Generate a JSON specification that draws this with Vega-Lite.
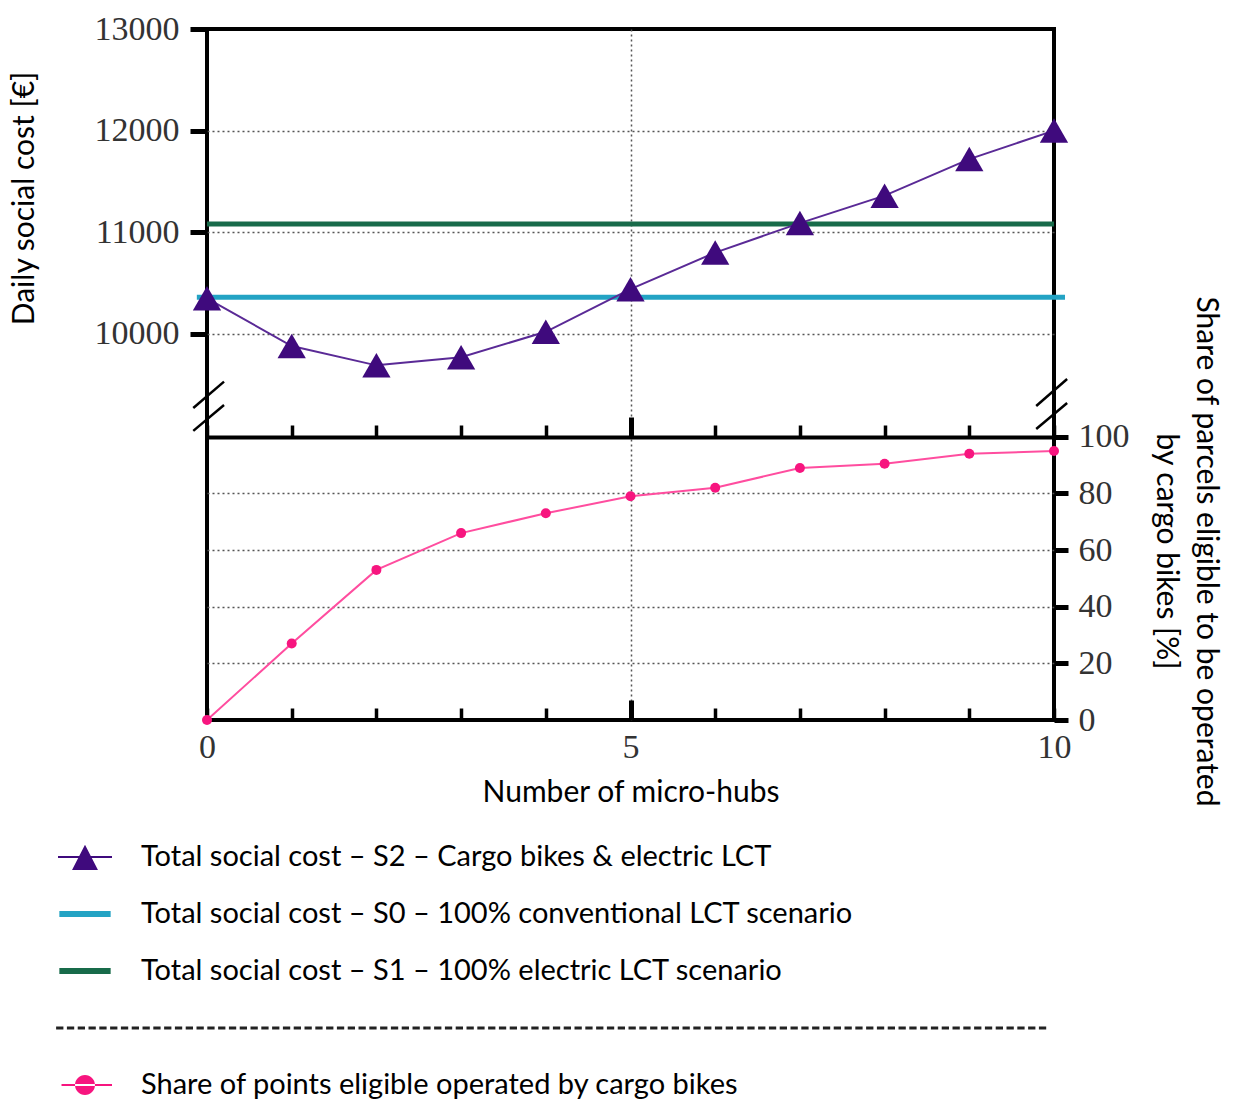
{
  "$schema": "https://vega.github.io/schema/vega-lite/v6.json",
  "width": 847,
  "height": 691,
  "autosize": {"type": "none"},
  "padding": {"left": 207, "top": 29, "right": 180, "bottom": 380},
  "background": "white",
  "config": {
    "view": {"stroke": "black", "strokeWidth": 4},
    "axis": {"labelFont": "Liberation Serif", "titleFont": "Lato", "titleFontWeight": "normal", "titleColor": "black"}
  },
  "datasets": {
    "cost": [
      {"hubs": 0, "cost": 10350}, {"hubs": 1, "cost": 9880}, {"hubs": 2, "cost": 9690},
      {"hubs": 3, "cost": 9770}, {"hubs": 4, "cost": 10020}, {"hubs": 5, "cost": 10440},
      {"hubs": 6, "cost": 10800}, {"hubs": 7, "cost": 11090}, {"hubs": 8, "cost": 11360},
      {"hubs": 9, "cost": 11720}, {"hubs": 10, "cost": 12000}
    ],
    "share": [
      {"hubs": 0, "share": 0}, {"hubs": 1, "share": 27}, {"hubs": 2, "share": 53},
      {"hubs": 3, "share": 66}, {"hubs": 4, "share": 73}, {"hubs": 5, "share": 79},
      {"hubs": 6, "share": 82}, {"hubs": 7, "share": 89}, {"hubs": 8, "share": 90.5},
      {"hubs": 9, "share": 94}, {"hubs": 10, "share": 95}
    ],
    "baseline": [
      {"scenario": "S0", "cost": 10360},
      {"scenario": "S1", "cost": 11080}
    ],
    "one": [{}]
  },
  "layer": [
    {
      "data": {"name": "cost"},
      "mark": {"type": "line", "color": "#5a2a96", "strokeWidth": 2, "opacity": 0},
      "encoding": {
        "x": {"field": "hubs", "type": "quantitative", "scale": {"domain": [0, 10]},
          "axis": {
            "orient": "bottom", "values": [0, 1, 2, 3, 4, 5, 6, 7, 8, 9, 10],
            "domain": false, "tickColor": "black",
            "tickWidth": {"condition": {"test": "datum.value === 5", "value": 5}, "value": 3.5},
            "tickSize": {"condition": {"test": "datum.value === 5", "value": -20}, "value": -12},
            "labelExpr": "datum.value % 5 === 0 ? datum.label : ''",
            "labelFontSize": 34, "labelColor": "#333",
            "labelPadding": {"condition": {"test": "datum.value === 5", "value": 30}, "value": 22},
            "labelFlush": false,
            "grid": true, "gridColor": "#555", "gridDash": [2, 3], "gridWidth": 1.5,
            "gridOpacity": {"condition": {"test": "datum.value === 5", "value": 1}, "value": 0},
            "title": "Number of micro-hubs", "titleFontSize": 30, "titleY": 72, "titleBaseline": "middle"
          }
        },
        "y": {"field": "cost", "type": "quantitative", "scale": {"domain": [6200, 13000]},
          "axis": {
            "orient": "left", "values": [10000, 11000, 12000, 13000], "format": "d",
            "domain": false, "tickColor": "black", "tickWidth": 5, "tickSize": 17,
            "labelFontSize": 34, "labelColor": "#333", "labelPadding": 11,
            "grid": true, "gridColor": "#555", "gridDash": [2, 3], "gridWidth": 1.5,
            "gridOpacity": {"condition": {"test": "datum.value === 13000", "value": 0}, "value": 1},
            "title": "Daily social cost [€]", "titleFontSize": 30,
            "titleX": -183, "titleY": 169, "titleAngle": -90, "titleAlign": "center", "titleBaseline": "middle"
          }
        }
      }
    },
    {
      "data": {"name": "share"},
      "mark": {"type": "line", "color": "#ff4d9f", "strokeWidth": 2},
      "encoding": {
        "x": {"field": "hubs", "type": "quantitative", "scale": {"domain": [0, 10]},
          "axis": {
            "orient": "top", "offset": -408, "values": [0, 1, 2, 3, 4, 5, 6, 7, 8, 9, 10],
            "labels": false, "grid": false, "title": null,
            "domain": true, "domainColor": "black", "domainWidth": 4,
            "ticks": true, "tickColor": "black",
            "tickWidth": {"condition": {"test": "datum.value === 5", "value": 5}, "value": 3.5},
            "tickSize": {"condition": {"test": "datum.value === 5", "value": 20}, "value": 12}
          }
        },
        "y": {"field": "share", "type": "quantitative", "scale": {"domain": [0, 244]},
          "axis": {
            "orient": "right", "values": [0, 20, 40, 60, 80, 100],
            "domain": false, "tickColor": "black", "tickWidth": 5, "tickSize": 14,
            "labelFontSize": 34, "labelColor": "#333", "labelPadding": 10,
            "grid": true, "gridColor": "#555", "gridDash": [2, 3], "gridWidth": 1.5,
            "gridOpacity": {"condition": {"test": "datum.value === 0 || datum.value === 100", "value": 0}, "value": 1},
            "title": ["Share of parcels eligible to be operated", "by cargo bikes [%]"], "titleFontSize": 30, "titleLineHeight": 40,
            "titleX": 151, "titleY": 522, "titleAngle": 90, "titleAlign": "center", "titleBaseline": "middle"
          }
        }
      }
    },
    {
      "data": {"name": "share"},
      "mark": {"type": "point", "shape": "circle", "filled": true, "size": 100, "color": "#f7157f", "opacity": 1},
      "encoding": {
        "x": {"field": "hubs", "type": "quantitative", "scale": {"domain": [0, 10]}, "axis": null},
        "y": {"field": "share", "type": "quantitative", "scale": {"domain": [0, 244]}, "axis": null}
      }
    },
    {
      "data": {"name": "baseline"},
      "transform": [{"filter": "datum.scenario === 'S1'"}],
      "mark": {"type": "rule", "strokeWidth": 5, "color": "#186b4a"},
      "encoding": {
        "y": {"field": "cost", "type": "quantitative", "scale": {"domain": [6200, 13000]}, "axis": null}
      }
    },
    {
      "data": {"name": "baseline"},
      "transform": [{"filter": "datum.scenario === 'S0'"}],
      "mark": {"type": "rule", "strokeWidth": 5, "color": "#23a3c4"},
      "encoding": {
        "x": {"datum": -0.12, "type": "quantitative", "scale": {"domain": [0, 10]}, "axis": null},
        "x2": {"datum": 10.13},
        "y": {"field": "cost", "type": "quantitative", "scale": {"domain": [6200, 13000]}, "axis": null}
      }
    },
    {
      "data": {"name": "cost"},
      "mark": {"type": "line", "color": "#5a2a96", "strokeWidth": 2},
      "encoding": {
        "x": {"field": "hubs", "type": "quantitative", "scale": {"domain": [0, 10]}, "axis": null},
        "y": {"field": "cost", "type": "quantitative", "scale": {"domain": [6200, 13000]}, "axis": null}
      }
    },
    {
      "data": {"name": "cost"},
      "mark": {"type": "point", "shape": "triangle-up", "filled": true, "size": 800, "color": "#3f0a7d", "opacity": 1},
      "encoding": {
        "x": {"field": "hubs", "type": "quantitative", "scale": {"domain": [0, 10]}, "axis": null},
        "y": {"field": "cost", "type": "quantitative", "scale": {"domain": [6200, 13000]}, "axis": null}
      }
    },
    {
      "data": {"name": "one"},
      "mark": {"type": "rule", "color": "black", "strokeWidth": 2.5},
      "encoding": {
        "x": {"datum": -0.162, "type": "quantitative", "scale": {"domain": [0, 10]}, "axis": null}, "x2": {"datum": 0.201},
        "y": {"datum": 9270, "type": "quantitative", "scale": {"domain": [6200, 13000]}, "axis": null}, "y2": {"datum": 9530}
      }
    },
    {
      "data": {"name": "one"},
      "mark": {"type": "rule", "color": "black", "strokeWidth": 2.5},
      "encoding": {
        "x": {"datum": -0.162, "type": "quantitative", "scale": {"domain": [0, 10]}, "axis": null}, "x2": {"datum": 0.201},
        "y": {"datum": 9045, "type": "quantitative", "scale": {"domain": [6200, 13000]}, "axis": null}, "y2": {"datum": 9300}
      }
    },
    {
      "data": {"name": "one"},
      "mark": {"type": "rule", "color": "black", "strokeWidth": 2.5},
      "encoding": {
        "x": {"datum": 9.79, "type": "quantitative", "scale": {"domain": [0, 10]}, "axis": null}, "x2": {"datum": 10.155},
        "y": {"datum": 9290, "type": "quantitative", "scale": {"domain": [6200, 13000]}, "axis": null}, "y2": {"datum": 9556}
      }
    },
    {
      "data": {"name": "one"},
      "mark": {"type": "rule", "color": "black", "strokeWidth": 2.5},
      "encoding": {
        "x": {"datum": 9.79, "type": "quantitative", "scale": {"domain": [0, 10]}, "axis": null}, "x2": {"datum": 10.155},
        "y": {"datum": 9064, "type": "quantitative", "scale": {"domain": [6200, 13000]}, "axis": null}, "y2": {"datum": 9320}
      }
    },
    {
      "data": {"values": []},
      "mark": {"type": "point", "filled": true, "opacity": 1, "strokeWidth": 0},
      "encoding": {
        "fill": {"field": "series", "type": "nominal",
          "scale": {
            "domain": ["Total social cost – S2 – Cargo bikes & electric LCT", "Total social cost – S0 – 100% conventional LCT scenario", "Total social cost – S1 – 100% electric LCT scenario", " ", "Share of points eligible operated by cargo bikes"],
            "range": ["#3f0a7d", "#23a3c4", "#186b4a", "#222222", "#f7157f"]
          },
          "legend": {"title": null, "orient": "none", "legendX": -149, "legendY": 801, "padding": 0, "symbolSize": 2916, "symbolStrokeWidth": 0, "symbolOpacity": 1, "labelFont": "Lato", "labelFontSize": 29, "labelColor": "black", "labelOffset": 29, "labelLimit": 0, "rowPadding": 15}
        },
        "shape": {"field": "series", "type": "nominal",
          "scale": {
            "domain": ["Total social cost – S2 – Cargo bikes & electric LCT", "Total social cost – S0 – 100% conventional LCT scenario", "Total social cost – S1 – 100% electric LCT scenario", " ", "Share of points eligible operated by cargo bikes"],
            "range": [
              "M-1,-0.04H1V0.04H-1Z M0,-0.45L0.48,0.48H-0.48Z",
              "M-0.95,-0.11H0.95V0.11H-0.95Z",
              "M-0.95,-0.11H0.95V0.11H-0.95Z",
              "M-1.07,-0.055h0.27v0.11h-0.27zm0.4,0h0.27v0.11h-0.27zm0.4,0h0.27v0.11h-0.27zm0.4,0h0.27v0.11h-0.27zm0.4,0h0.27v0.11h-0.27zm0.4,0h0.27v0.11h-0.27zm0.4,0h0.27v0.11h-0.27zm0.4,0h0.27v0.11h-0.27zm0.4,0h0.27v0.11h-0.27zm0.4,0h0.27v0.11h-0.27zm0.4,0h0.27v0.11h-0.27zm0.4,0h0.27v0.11h-0.27zm0.4,0h0.27v0.11h-0.27zm0.4,0h0.27v0.11h-0.27zm0.4,0h0.27v0.11h-0.27zm0.4,0h0.27v0.11h-0.27zm0.4,0h0.27v0.11h-0.27zm0.4,0h0.27v0.11h-0.27zm0.4,0h0.27v0.11h-0.27zm0.4,0h0.27v0.11h-0.27zm0.4,0h0.27v0.11h-0.27zm0.4,0h0.27v0.11h-0.27zm0.4,0h0.27v0.11h-0.27zm0.4,0h0.27v0.11h-0.27zm0.4,0h0.27v0.11h-0.27zm0.4,0h0.27v0.11h-0.27zm0.4,0h0.27v0.11h-0.27zm0.4,0h0.27v0.11h-0.27zm0.4,0h0.27v0.11h-0.27zm0.4,0h0.27v0.11h-0.27zm0.4,0h0.27v0.11h-0.27zm0.4,0h0.27v0.11h-0.27zm0.4,0h0.27v0.11h-0.27zm0.4,0h0.27v0.11h-0.27zm0.4,0h0.27v0.11h-0.27zm0.4,0h0.27v0.11h-0.27zm0.4,0h0.27v0.11h-0.27zm0.4,0h0.27v0.11h-0.27zm0.4,0h0.27v0.11h-0.27zm0.4,0h0.27v0.11h-0.27zm0.4,0h0.27v0.11h-0.27zm0.4,0h0.27v0.11h-0.27zm0.4,0h0.27v0.11h-0.27zm0.4,0h0.27v0.11h-0.27zm0.4,0h0.27v0.11h-0.27zm0.4,0h0.27v0.11h-0.27zm0.4,0h0.27v0.11h-0.27zm0.4,0h0.27v0.11h-0.27zm0.4,0h0.27v0.11h-0.27zm0.4,0h0.27v0.11h-0.27zm0.4,0h0.27v0.11h-0.27zm0.4,0h0.27v0.11h-0.27zm0.4,0h0.27v0.11h-0.27zm0.4,0h0.27v0.11h-0.27zm0.4,0h0.27v0.11h-0.27zm0.4,0h0.27v0.11h-0.27zm0.4,0h0.27v0.11h-0.27zm0.4,0h0.27v0.11h-0.27zm0.4,0h0.27v0.11h-0.27zm0.4,0h0.27v0.11h-0.27zm0.4,0h0.27v0.11h-0.27zm0.4,0h0.27v0.11h-0.27zm0.4,0h0.27v0.11h-0.27zm0.4,0h0.27v0.11h-0.27zm0.4,0h0.27v0.11h-0.27zm0.4,0h0.27v0.11h-0.27zm0.4,0h0.27v0.11h-0.27zm0.4,0h0.27v0.11h-0.27zm0.4,0h0.27v0.11h-0.27zm0.4,0h0.27v0.11h-0.27zm0.4,0h0.27v0.11h-0.27zm0.4,0h0.27v0.11h-0.27zm0.4,0h0.27v0.11h-0.27zm0.4,0h0.27v0.11h-0.27zm0.4,0h0.27v0.11h-0.27zm0.4,0h0.27v0.11h-0.27zm0.4,0h0.27v0.11h-0.27zm0.4,0h0.27v0.11h-0.27zm0.4,0h0.27v0.11h-0.27zm0.4,0h0.27v0.11h-0.27zm0.4,0h0.27v0.11h-0.27zm0.4,0h0.27v0.11h-0.27zm0.4,0h0.27v0.11h-0.27zm0.4,0h0.27v0.11h-0.27zm0.4,0h0.27v0.11h-0.27zm0.4,0h0.27v0.11h-0.27zm0.4,0h0.27v0.11h-0.27zm0.4,0h0.27v0.11h-0.27zm0.4,0h0.27v0.11h-0.27zm0.4,0h0.27v0.11h-0.27zm0.4,0h0.27v0.11h-0.27zm0.4,0h0.27v0.11h-0.27z",
              "M-0.87,-0.04H1V0.04H-0.87Z M-0.37,0A0.37,0.37 0 1,0 0.37,0A0.37,0.37 0 1,0 -0.37,0Z"
            ]
          },
          "legend": {"title": null, "orient": "none", "legendX": -149, "legendY": 801, "padding": 0, "symbolSize": 2916, "symbolStrokeWidth": 0, "symbolOpacity": 1, "labelFont": "Lato", "labelFontSize": 29, "labelColor": "black", "labelOffset": 29, "labelLimit": 0, "rowPadding": 15}
        }
      }
    }
  ],
  "resolve": {"scale": {"y": "independent"}, "axis": {"x": "independent", "y": "independent"}}
}
